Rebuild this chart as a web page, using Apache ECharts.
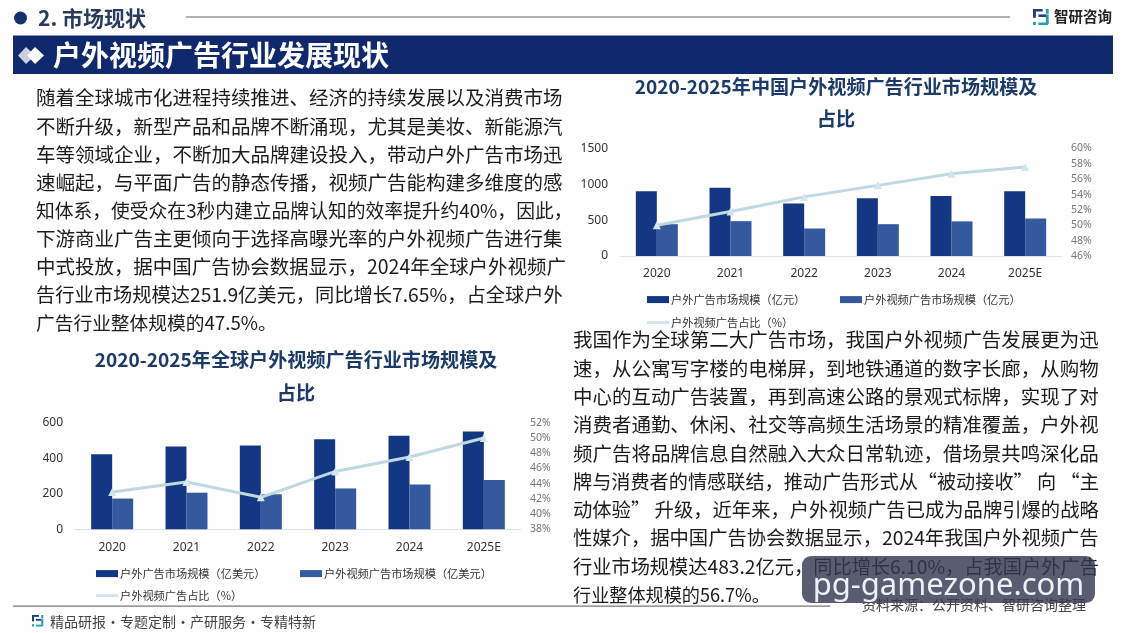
<!DOCTYPE html>
<html lang="zh">
<head>
<meta charset="utf-8">
<title>户外视频广告行业发展现状</title>
<style>html,body{margin:0;padding:0;background:#fefefe}#chart{width:1125px;height:633px}</style>
<script src="https://cdn.jsdelivr.net/npm/echarts@6/dist/echarts.min.js"></script>
</head>
<body>
<div id="chart"></div>
<script>
// Chart data
const years = ['2020', '2021', '2022', '2023', '2024', '2025E'];

const globalTotal = [423, 466, 472, 507, 526, 550];
const globalVideo = [173, 206, 197, 230, 251.9, 277];
const globalShare = [42.9, 44.2, 42.2, 45.6, 47.5, 50.0];

const chinaTotal = [903, 954, 731, 805, 838, 903];
const chinaVideo = [444, 486, 384, 444, 483.2, 523];
const chinaShare = [50.0, 51.8, 53.7, 55.2, 56.7, 57.6];

// Copy blocks, one entry per printed line
const leftCopy = [
  '随着全球城市化进程持续推进、经济的持续发展以及消费市场',
  '不断升级，新型产品和品牌不断涌现，尤其是美妆、新能源汽',
  '车等领域企业，不断加大品牌建设投入，带动户外广告市场迅',
  '速崛起，与平面广告的静态传播，视频广告能构建多维度的感',
  '知体系，使受众在3秒内建立品牌认知的效率提升约40%，因此，',
  '下游商业广告主更倾向于选择高曝光率的户外视频广告进行集',
  '中式投放，据中国广告协会数据显示，2024年全球户外视频广',
  '告行业市场规模达251.9亿美元，同比增长7.65%，占全球户外',
  '广告行业整体规模的47.5%。'
];
const rightCopy = [
  '我国作为全球第二大广告市场，我国户外视频广告发展更为迅',
  '速，从公寓写字楼的电梯屏，到地铁通道的数字长廊，从购物',
  '中心的互动广告装置，再到高速公路的景观式标牌，实现了对',
  '消费者通勤、休闲、社交等高频生活场景的精准覆盖，户外视',
  '频广告将品牌信息自然融入大众日常轨迹，借场景共鸣深化品',
  '牌与消费者的情感联结，推动广告形式从“被动接收” 向 “主',
  '动体验” 升级，近年来，户外视频广告已成为品牌引爆的战略',
  '性媒介，据中国广告协会数据显示，2024年我国户外视频广告',
  '行业市场规模达483.2亿元，同比增长6.10%，占我国户外广告',
  '行业整体规模的56.7%。'
];

const CJK = '"Noto Sans CJK SC", "Noto Sans", sans-serif';
const LATIN = '"Noto Sans", sans-serif';
const NAVY = '#133782';
const BLUE = '#34599f';
const PALE = '#bfd8e2';
const TITLE = '#1c3a68';

function text(str, x, y, size, fill, opts) {
  const o = opts || {};
  return {
    type: 'text', z: o.z || 10,
    style: {
      text: str, x, y, fill,
      font: (o.weight || 'normal') + ' ' + size + 'px ' + (o.family || CJK),
      align: o.align || 'left', verticalAlign: 'middle'
    }
  };
}
function rect(x, y, width, height, fill, r, z) {
  return { type: 'rect', z: z || 5, shape: { x, y, width, height, r: r || 0 }, style: { fill } };
}
function logo(x, y, s) {
  // Bracket-shaped brand mark
  return [
    rect(x, y, 6 * s, 1.6 * s, '#1d3f86'), rect(x, y, 1.8 * s, 5.5 * s, '#1d3f86'),
    rect(x, y + 8 * s, 1.8 * s, 2 * s, '#27a0b5'),
    rect(x + 3.4 * s, y + 3.4 * s, 5 * s, 1.6 * s, '#1d3f86'),
    rect(x + 8 * s, y, 1.8 * s, 3 * s, '#27a0b5'),
    rect(x + 8 * s, y + 3.4 * s, 1.8 * s, 6 * s, '#27a0b5'),
    rect(x + 3.4 * s, y + 8.4 * s, 6 * s, 1.6 * s, '#27a0b5')
  ];
}

// Body copy is justified: each full line is sized to fill its column width
const ruler = document.createElement('canvas').getContext('2d');
function fittedSize(str, width) {
  ruler.font = '100px ' + CJK;
  return 100 * width / ruler.measureText(str).width;
}
const bodyColor = '#1c1c1c';
const leftWidths = [527, 527, 527, 527, 537, 527, 530, 527, 241];
const rightWidths = [526, 526, 526, 526, 526, 526, 526, 526, 526, 197];
const copy = [
  ...leftCopy.map((s, i) => text(s, 36, 98 + i * 28.1, fittedSize(s, leftWidths[i]), bodyColor)),
  ...rightCopy.map((s, i) => text(s, 573, 340 + i * 28.3, fittedSize(s, rightWidths[i]), bodyColor))
];

const decor = [
  // Header
  { type: 'circle', z: 5, shape: { cx: 20.5, cy: 18, r: 6.5 }, style: { fill: '#14306f' } },
  text('2. 市场现状', 38, 18, 21, '#2a3a5c', { weight: 'bold' }),
  rect(186, 16.5, 824, 1, '#666'),
  ...logo(1033, 9, 1.6),
  text('智研咨询', 1054, 16, 14.5, '#222', { weight: 'bold' }),
  // Banner
  rect(13, 35.5, 1100, 38.5, '#10296c'),
  { type: 'polygon', z: 6, shape: { points: [[26, 47], [35, 55.5], [26, 64], [18, 55.5]] }, style: { fill: '#c9cfdd' } },
  { type: 'polygon', z: 7, shape: { points: [[35, 47], [44, 55.5], [35, 64], [27, 55.5]] }, style: { fill: '#ffffff' } },
  text('户外视频广告行业发展现状', 53, 55, 28, '#ffffff', { weight: 'bold' }),
  // Chart headings
  text('2020-2025年全球户外视频广告行业市场规模及', 296, 360, 19.1, TITLE, { weight: 'bold', align: 'center' }),
  text('占比', 296, 393, 19.1, TITLE, { weight: 'bold', align: 'center' }),
  text('2020-2025年中国户外视频广告行业市场规模及', 836, 87, 19.1, TITLE, { weight: 'bold', align: 'center' }),
  text('占比', 836, 119, 19.1, TITLE, { weight: 'bold', align: 'center' }),
  // Footer
  rect(13, 605.5, 817, 1.2, '#777'),
  ...logo(32, 615, 1.15),
  text('精品研报·专题定制·产研服务·专精特新', 50, 622, 14, '#444'),
  text('资料来源：公开资料、智研咨询整理', 862, 605, 14, '#444'),
  // Site badge
  rect(802, 556, 293, 47, 'rgba(53,56,82,0.815)', 9, 20),
  text('pg-gamezone.com', 948.5, 586, 31, '#eef0f5', { z: 21, align: 'center', family: LATIN })
];

function xAxisFor(gridIndex) {
  return {
    type: 'category', gridIndex, data: years,
    axisTick: { show: false },
    axisLine: { lineStyle: { color: '#dfe3e8', width: 1 } },
    axisLabel: { color: '#333', fontSize: 12, margin: 12, fontFamily: LATIN }
  };
}
function leftAxis(gridIndex, max, interval) {
  return {
    type: 'value', gridIndex, min: 0, max, interval,
    splitLine: { show: false }, axisLine: { show: false }, axisTick: { show: false },
    axisLabel: { color: '#333', fontSize: 12, margin: 12, fontFamily: LATIN, formatter: v => String(v) }
  };
}
function shareAxis(gridIndex, min, max) {
  return {
    type: 'value', gridIndex, min, max, interval: 2, position: 'right',
    splitLine: { show: false }, axisLine: { show: false }, axisTick: { show: false },
    axisLabel: { color: '#777', fontSize: 10.5, margin: 9, formatter: '{value}%', fontFamily: LATIN }
  };
}
function barSeries(name, data, color, axis) {
  return {
    name, type: 'bar', data, barWidth: 21, barGap: 0,
    xAxisIndex: axis.x, yAxisIndex: axis.y,
    itemStyle: { color }
  };
}
function lineSeries(name, data, axis) {
  return {
    name, type: 'line', data, z: 5,
    xAxisIndex: axis.x, yAxisIndex: axis.y,
    symbol: 'triangle', symbolSize: 8,
    itemStyle: { color: '#d3e6ee' },
    lineStyle: { color: PALE, width: 3 }
  };
}
function legendItem(name, left, top, isLine) {
  return {
    data: [{ name, icon: 'rect' }],
    left, top, padding: 0, itemGap: 0,
    itemWidth: 22, itemHeight: isLine ? 3 : 7,
    textStyle: { color: '#333', fontSize: 11.2, padding: [0, 0, 0, -3], fontFamily: CJK },
    selectedMode: false
  };
}

const names = {
  gt: '户外广告市场规模（亿美元）', gv: '户外视频广告市场规模（亿美元）',
  ct: '户外广告市场规模（亿元）', cv: '户外视频广告市场规模（亿元）',
  share: '户外视频广告占比（%）'
};

const chart = echarts.init(document.getElementById('chart'), null, { renderer: 'canvas' });
chart.setOption({
  animation: false,
  backgroundColor: '#fefefe',
  grid: [
    { left: 75, top: 422.7, width: 446, height: 106.6 },
    { left: 620, top: 148.5, width: 442, height: 107.5 }
  ],
  xAxis: [xAxisFor(0), xAxisFor(1)],
  yAxis: [
    leftAxis(0, 600, 200), shareAxis(0, 38, 52),
    leftAxis(1, 1500, 500), shareAxis(1, 46, 60)
  ],
  legend: [
    legendItem(names.gt, 96, 568),
    legendItem(names.gv, 300, 568),
    legendItem(names.share, 96, 590, true),
    legendItem(names.ct, 647, 294),
    legendItem(names.cv, 840, 294),
    legendItem(names.share, 647, 317, true)
  ],
  series: [
    barSeries(names.gt, globalTotal, NAVY, { x: 0, y: 0 }),
    barSeries(names.gv, globalVideo, BLUE, { x: 0, y: 0 }),
    lineSeries(names.share, globalShare, { x: 0, y: 1 }),
    barSeries(names.ct, chinaTotal, NAVY, { x: 1, y: 2 }),
    barSeries(names.cv, chinaVideo, BLUE, { x: 1, y: 2 }),
    lineSeries(names.share, chinaShare, { x: 1, y: 3 })
  ],
  graphic: { elements: [...decor, ...copy] }
});
</script>
</body>
</html>
